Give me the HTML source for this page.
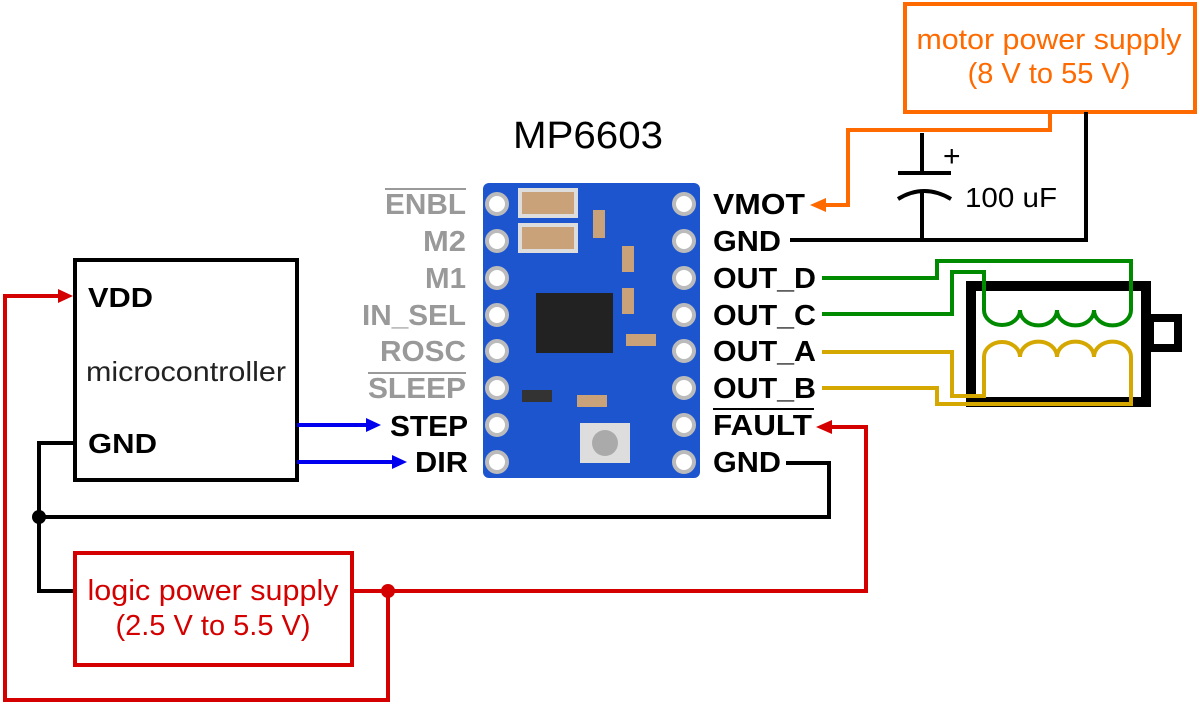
<!DOCTYPE html>
<html><head><meta charset="utf-8"><style>
body{margin:0;background:#fff}
svg text{font-family:"Liberation Sans",Arial,sans-serif}
</style></head><body>
<svg width="1200" height="704" viewBox="0 0 1200 704" xmlns="http://www.w3.org/2000/svg">
<!-- motor power supply -->
<rect x="905" y="4" width="290" height="108" fill="none" stroke="#ff6a00" stroke-width="4"/>
<text x="1049" y="49" font-size="29" fill="#ff6a00" text-anchor="middle" textLength="265" lengthAdjust="spacingAndGlyphs">motor power supply</text>
<text x="1049" y="83" font-size="29" fill="#ff6a00" text-anchor="middle">(8 V to 55 V)</text>
<polyline points="1050,112 1050,130 848,130 848,205 822,205" fill="none" stroke="#ff6a00" stroke-width="4"/>
<path d="M810,205 L826,198 L826,212 Z" fill="#ff6a00"/>
<polyline points="1086,112 1086,240 790,240" fill="none" stroke="#000" stroke-width="4"/>
<line x1="922" y1="133" x2="922" y2="172" stroke="#000" stroke-width="4"/>
<line x1="898" y1="173" x2="951" y2="173" stroke="#000" stroke-width="4"/>
<path d="M898,199 Q924,183 951,199" fill="none" stroke="#000" stroke-width="4"/>
<line x1="922" y1="190" x2="922" y2="240" stroke="#000" stroke-width="4"/>
<text x="943" y="166" font-size="30" fill="#000">+</text>
<text x="965" y="207" font-size="28" fill="#000" textLength="92" lengthAdjust="spacingAndGlyphs">100 uF</text>
<!-- title -->
<text x="588" y="148" font-size="38" fill="#000" text-anchor="middle" textLength="150" lengthAdjust="spacingAndGlyphs">MP6603</text>
<!-- board -->
<rect x="483" y="183" width="217" height="295" rx="6" fill="#1d55cf"/>
<rect x="536" y="293" width="77" height="60" fill="#222"/>
<rect x="520" y="190" width="56" height="26" fill="#c9a27a" stroke="#ddd" stroke-width="4"/>
<rect x="520" y="225" width="56" height="26" fill="#c9a27a" stroke="#ddd" stroke-width="4"/>
<rect x="593" y="210" width="12" height="28" fill="#c9a27a"/>
<rect x="622" y="246" width="12" height="26" fill="#c9a27a"/>
<rect x="622" y="288" width="12" height="26" fill="#c9a27a"/>
<rect x="626" y="334" width="30" height="12" fill="#c9a27a"/>
<rect x="577" y="395" width="30" height="12" fill="#c9a27a"/>
<rect x="522" y="390" width="30" height="12" fill="#333"/>
<rect x="580" y="423" width="50" height="40" fill="#ddd"/>
<circle cx="605" cy="443" r="13" fill="#aaa"/>
<g fill="#fff" stroke="#bbb" stroke-width="4">
<circle cx="497" cy="204" r="10"/><circle cx="497" cy="241" r="10"/><circle cx="497" cy="278" r="10"/><circle cx="497" cy="315" r="10"/><circle cx="497" cy="351" r="10"/><circle cx="497" cy="388" r="10"/><circle cx="497" cy="425" r="10"/><circle cx="497" cy="462" r="10"/>
<circle cx="684" cy="204" r="10"/><circle cx="684" cy="241" r="10"/><circle cx="684" cy="278" r="10"/><circle cx="684" cy="315" r="10"/><circle cx="684" cy="351" r="10"/><circle cx="684" cy="388" r="10"/><circle cx="684" cy="425" r="10"/><circle cx="684" cy="462" r="10"/>
</g>
<!-- left labels -->
<g font-size="29" font-weight="bold" lengthAdjust="spacingAndGlyphs">
<text x="385" y="214" fill="#999" textLength="81" lengthAdjust="spacingAndGlyphs">ENBL</text>
<line x1="385" y1="189" x2="466" y2="189" stroke="#999" stroke-width="2"/>
<text x="423" y="251" fill="#999" textLength="43" lengthAdjust="spacingAndGlyphs">M2</text>
<text x="425" y="288" fill="#999" textLength="41" lengthAdjust="spacingAndGlyphs">M1</text>
<text x="362" y="325" fill="#999" textLength="104" lengthAdjust="spacingAndGlyphs">IN_SEL</text>
<text x="380" y="361" fill="#999" textLength="86" lengthAdjust="spacingAndGlyphs">ROSC</text>
<text x="368" y="398" fill="#999" textLength="98" lengthAdjust="spacingAndGlyphs">SLEEP</text>
<line x1="368" y1="373" x2="466" y2="373" stroke="#999" stroke-width="2"/>
<text x="390" y="436" fill="#000" textLength="78" lengthAdjust="spacingAndGlyphs">STEP</text>
<text x="415" y="472" fill="#000" textLength="53" lengthAdjust="spacingAndGlyphs">DIR</text>
</g>
<!-- right labels -->
<g font-size="29" font-weight="bold" fill="#000">
<text x="713" y="214" textLength="92" lengthAdjust="spacingAndGlyphs">VMOT</text>
<text x="713" y="251" textLength="68" lengthAdjust="spacingAndGlyphs">GND</text>
<text x="713" y="288" textLength="103" lengthAdjust="spacingAndGlyphs">OUT_D</text>
<text x="713" y="325" textLength="103" lengthAdjust="spacingAndGlyphs">OUT_C</text>
<text x="713" y="361" textLength="103" lengthAdjust="spacingAndGlyphs">OUT_A</text>
<text x="713" y="398" textLength="103" lengthAdjust="spacingAndGlyphs">OUT_B</text>
<text x="713" y="435" textLength="99" lengthAdjust="spacingAndGlyphs">FAULT</text>
<line x1="713" y1="409" x2="814" y2="409" stroke="#000" stroke-width="2"/>
<text x="713" y="472" textLength="68" lengthAdjust="spacingAndGlyphs">GND</text>
</g>
<!-- motor -->
<rect x="971" y="286" width="175" height="116" fill="none" stroke="#000" stroke-width="10"/>
<rect x="1150" y="318" width="28" height="30" fill="none" stroke="#000" stroke-width="8"/>
<g fill="none" stroke="#008a00" stroke-width="4">
<polyline points="822,278 937,278 937,261 1131,261 1131,310"/>
<polyline points="822,314 952,314 952,272 984,272 984,310"/>
<path d="M984,310 a18,15 0 0 0 36,0 a18,15 0 0 0 37,0 a18,15 0 0 0 37,0 a18,15 0 0 0 37,0"/>
</g>
<g fill="none" stroke="#d4a800" stroke-width="4">
<polyline points="822,352 952,352 952,396 984,396 984,357"/>
<polyline points="822,388 937,388 937,404 1131,404 1131,357"/>
<path d="M984,357 a18,15 0 0 1 36,0 a18,15 0 0 1 37,0 a18,15 0 0 1 37,0 a18,15 0 0 1 37,0"/>
</g>
<!-- microcontroller -->
<rect x="75" y="260" width="222" height="220" fill="none" stroke="#000" stroke-width="4"/>
<text x="88" y="307" font-size="28" font-weight="bold" textLength="65" lengthAdjust="spacingAndGlyphs">VDD</text>
<text x="86" y="381" font-size="28" fill="#222" textLength="200" lengthAdjust="spacingAndGlyphs">microcontroller</text>
<text x="88" y="453" font-size="28" font-weight="bold" textLength="69" lengthAdjust="spacingAndGlyphs">GND</text>
<!-- blue -->
<line x1="297" y1="425" x2="368" y2="425" stroke="#0000ee" stroke-width="4"/>
<path d="M381,425 L366,418 L366,432 Z" fill="#0000ee"/>
<line x1="297" y1="462" x2="394" y2="462" stroke="#0000ee" stroke-width="4"/>
<path d="M407,462 L392,455 L392,469 Z" fill="#0000ee"/>
<!-- black ground -->
<polyline points="75,443 39,443 39,591 75,591" fill="none" stroke="#000" stroke-width="4"/>
<polyline points="39,517 829,517 829,463 786,463" fill="none" stroke="#000" stroke-width="4"/>
<circle cx="39" cy="517" r="7" fill="#000"/>
<!-- logic power -->
<rect x="75" y="553" width="277" height="112" fill="none" stroke="#d40000" stroke-width="4"/>
<text x="213" y="600" font-size="29" fill="#d40000" text-anchor="middle" textLength="251" lengthAdjust="spacingAndGlyphs">logic power supply</text>
<text x="213" y="635" font-size="29" fill="#d40000" text-anchor="middle">(2.5 V to 5.5 V)</text>
<polyline points="352,591 866,591 866,427 830,427" fill="none" stroke="#d40000" stroke-width="4"/>
<path d="M816,427 L832,420 L832,434 Z" fill="#d40000"/>
<polyline points="388,591 388,700 5,700 5,296 60,296" fill="none" stroke="#d40000" stroke-width="4"/>
<path d="M73,296 L58,289 L58,303 Z" fill="#d40000"/>
<circle cx="388" cy="591" r="7" fill="#d40000"/>
</svg>
</body></html>
